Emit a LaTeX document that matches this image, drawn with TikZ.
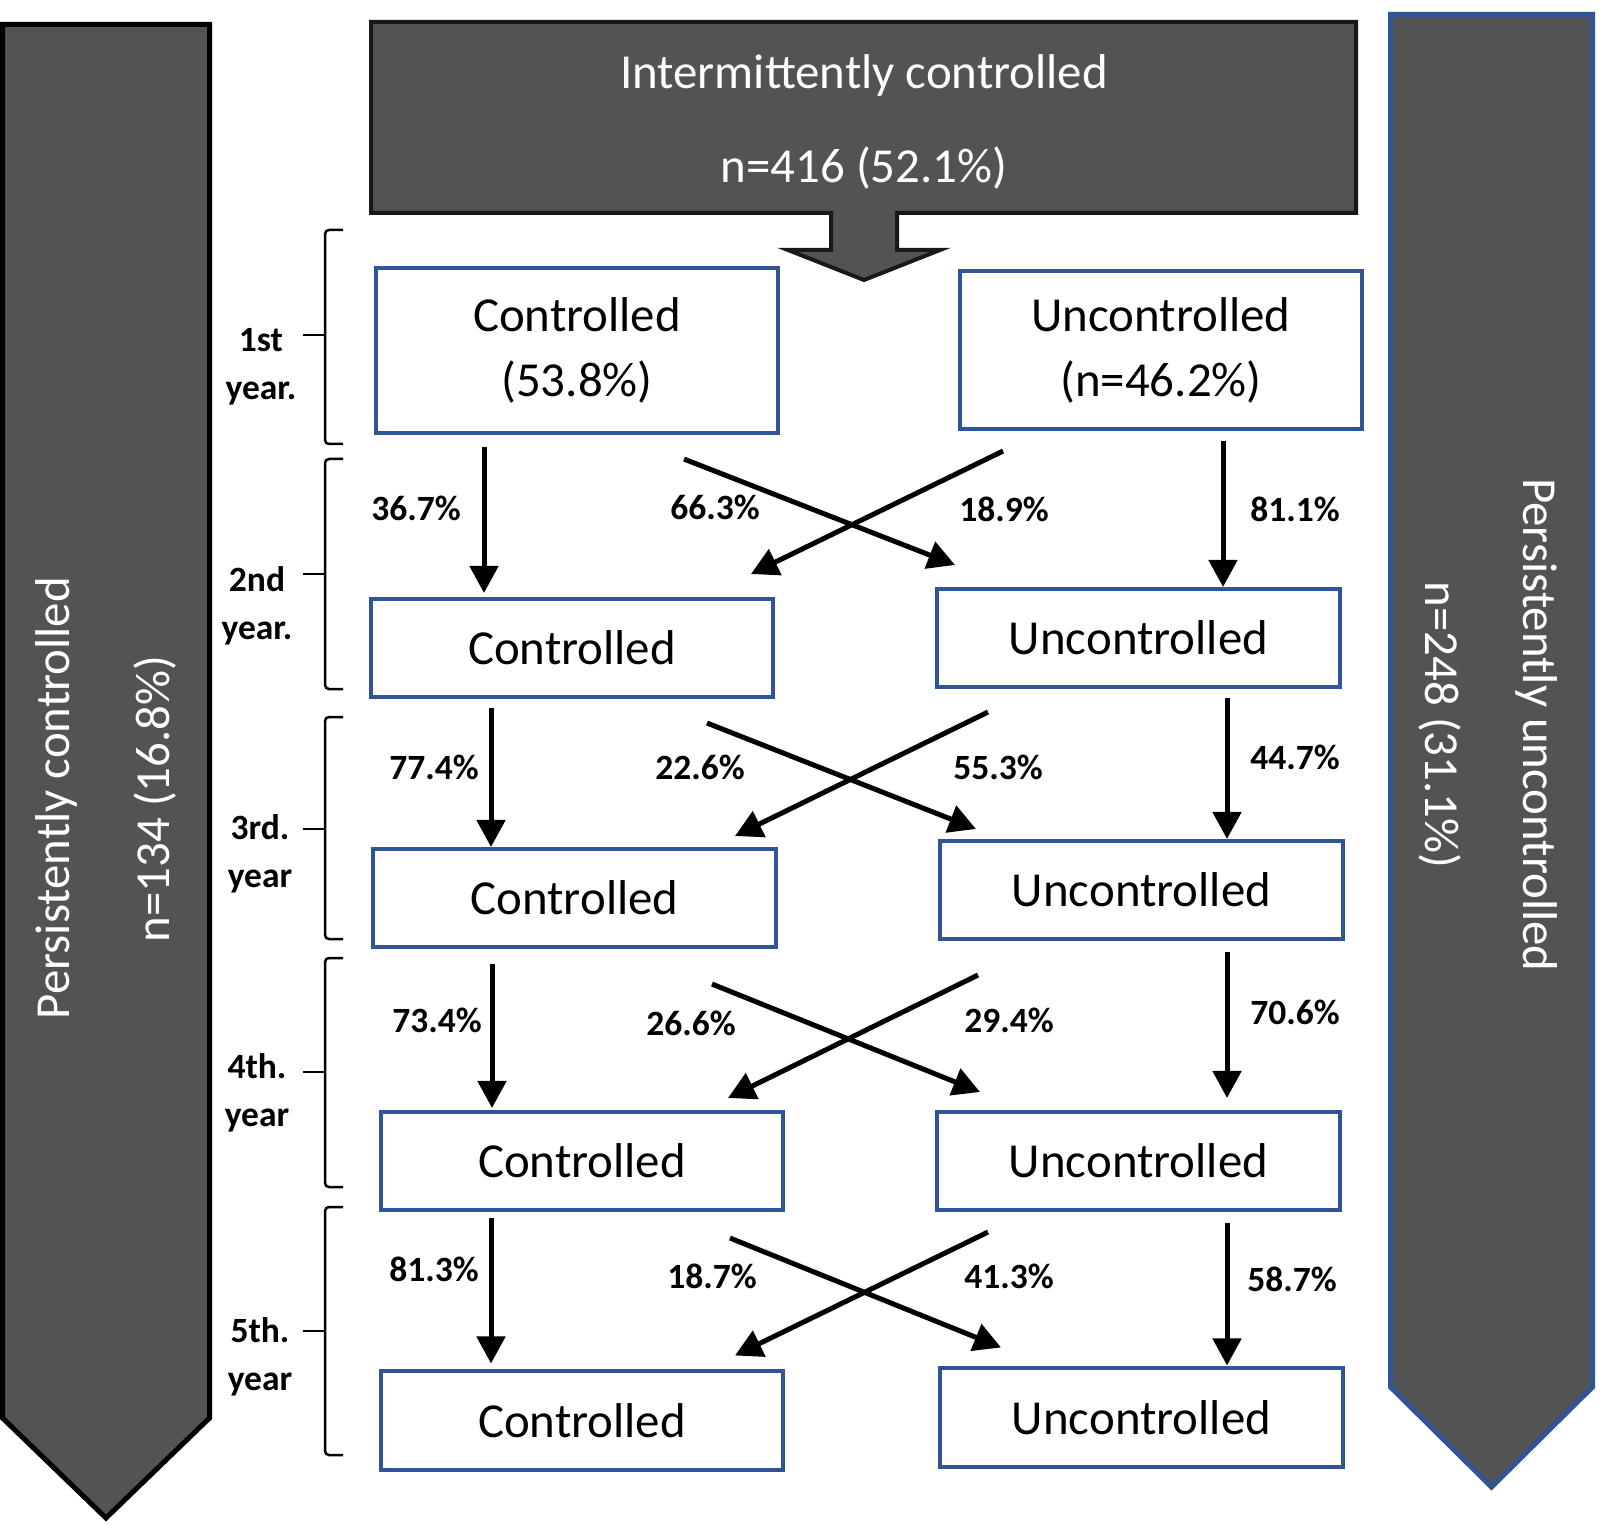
\documentclass[tikz,border=0pt]{standalone}
\usepackage{fontspec}
\setmainfont{Carlito}
\usetikzlibrary{arrows.meta,calc,positioning}
\definecolor{darkfill}{RGB}{83,83,83}
\definecolor{boxblue}{RGB}{47,85,151}

\begin{document}
\begin{tikzpicture}[x=0.01cm,y=-0.01cm]
  \tikzstyle{state}=[rectangle,draw=boxblue,line width=0.04cm,fill=white,minimum width=4.02cm,minimum height=0.98cm,inner sep=0pt,align=center,font=\fontsize{13.9pt}{18.5pt}\selectfont]
  \tikzstyle{pct}=[inner sep=1pt,font=\fontsize{10.1pt}{12pt}\selectfont\bfseries]
  \tikzstyle{year}=[align=center,inner sep=1pt,font=\fontsize{10.1pt}{13.7pt}\selectfont\bfseries]
  \tikzstyle{flow}=[-{Triangle[length=0.27cm,width=0.28cm]},line width=0.05cm]
  \tikzstyle{band}=[fill=darkfill,line width=0.05cm]
  \tikzstyle{bandtext}=[text=white,inner sep=0pt,font=\fontsize{13.9pt}{16pt}\selectfont]
  \tikzstyle{brace}=[line width=0.025cm,rounded corners=0.04cm]

  \useasboundingbox (0,0) rectangle (1601,1525);

  % side bands
  \draw [band,draw=black] (2.5,24.5) -- (209.5,24.5) -- (209.5,1418) -- (106,1518) -- (2.5,1418) -- cycle;
  \draw [band,draw=boxblue] (1390.5,14.5) -- (1592.5,14.5) -- (1592.5,1387) -- (1491.5,1487) -- (1390.5,1387) -- cycle;
  \node [bandtext,rotate=90] (pc) at (56,798) {Persistently controlled};
  \node [bandtext,rotate=90] (pcn) at (155,799) {n=134 (16.8\%)};
  \node [bandtext,rotate=-90] (pu) at (1537,725) {Persistently uncontrolled};
  \node [bandtext,rotate=-90] (pun) at (1440,725) {n=248 (31.1\%)};

  % top box with its arrow
  \draw [band,draw=black!90,line width=0.04cm] (371,22) -- (1356,22) -- (1356,213) -- (897,213) -- (897,250) -- (940,250)
    -- (864,280) -- (788,250) -- (831,250) -- (831,213) -- (371,213) -- cycle;
  \node [bandtext,align=center,font=\fontsize{13.9pt}{26.75pt}\selectfont] (top) at (864,122) {Intermittently controlled\\n=416 (52.1\%)};

  % states
  \node [state,minimum height=1.65cm] (C1) at (577,350.5) {Controlled\\(53.8\%)};
  \node [state,minimum height=1.58cm] (U1) at (1161,350) {Uncontrolled\\(n=46.2\%)};
  \node [state] (C2) at (572,648) {Controlled};
  \node [state] (U2) at (1138.5,638) {Uncontrolled};
  \node [state] (C3) at (574.5,898) {Controlled};
  \node [state] (U3) at (1141.5,890) {Uncontrolled};
  \node [state] (C4) at (582,1161) {Controlled};
  \node [state] (U4) at (1138.5,1161) {Uncontrolled};
  \node [state] (C5) at (582,1420.5) {Controlled};
  \node [state] (U5) at (1141.5,1417.5) {Uncontrolled};

  % transitions
  \draw [flow] ($(C1.south)+(-93,12)$) -- ($(C2.north)+(-88,-4)$);
  \draw [flow] ($(U1.south)+(62,10)$) -- ($(U2.north)+(84.5,0)$);
  \draw [flow] ($(C1.south)+(107,24)$) -- ($(U2.north)+(-183.5,-22)$);
  \draw [flow] ($(U1.south)+(-158,20)$) -- ($(C2.north)+(179,-23)$);

  \draw [flow] ($(C2.south)+(-81,9)$) -- ($(C3.north)+(-83.5,0)$);
  \draw [flow] ($(U2.south)+(88.5,9)$) -- ($(U3.north)+(85.5,0)$);
  \draw [flow] ($(C2.south)+(135,24)$) -- ($(U3.north)+(-165.5,-10)$);
  \draw [flow] ($(U2.south)+(-150.5,23)$) -- ($(C3.north)+(160.5,-11)$);

  \draw [flow] ($(C3.south)+(-82.5,15)$) -- ($(C4.north)+(-90,-2)$);
  \draw [flow] ($(U3.south)+(85.5,11)$) -- ($(U4.north)+(88.5,-12)$);
  \draw [flow] ($(C3.south)+(137.5,35)$) -- ($(U4.north)+(-158.5,-18)$);
  \draw [flow] ($(U3.south)+(-163.5,34)$) -- ($(C4.north)+(146,-12)$);

  \draw [flow] ($(C4.south)+(-91,6)$) -- ($(C5.north)+(-91,-6)$);
  \draw [flow] ($(U4.south)+(88.5,11)$) -- ($(U5.north)+(85.5,-1)$);
  \draw [flow] ($(C4.south)+(148,26)$) -- ($(U5.north)+(-140.5,-19)$);
  \draw [flow] ($(U4.south)+(-150.5,20)$) -- ($(C5.north)+(153,-14)$);

  % percentages
  \node [pct] (p1a) at (416,508) {36.7\%};
  \node [pct] (p1b) at (715,507) {66.3\%};
  \node [pct] (p1c) at (1004,509) {18.9\%};
  \node [pct] (p1d) at (1295,509) {81.1\%};
  \node [pct] (p2a) at (434,767) {77.4\%};
  \node [pct] (p2b) at (700,767) {22.6\%};
  \node [pct] (p2c) at (998,767) {55.3\%};
  \node [pct] (p2d) at (1295,757) {44.7\%};
  \node [pct] (p3a) at (437,1020) {73.4\%};
  \node [pct] (p3b) at (691,1023) {26.6\%};
  \node [pct] (p3c) at (1009,1020) {29.4\%};
  \node [pct] (p3d) at (1295,1012) {70.6\%};
  \node [pct] (p4a) at (434,1269) {81.3\%};
  \node [pct] (p4b) at (712,1276) {18.7\%};
  \node [pct] (p4c) at (1009,1276) {41.3\%};
  \node [pct] (p4d) at (1292,1279) {58.7\%};

  % years
  \draw [brace] (343,230) -- (325,230) -- (325,444) -- (343,444);
  \draw [line width=0.025cm] (303,335) -- (325,335);
  \draw [brace] (343,459) -- (325,459) -- (325,689) -- (343,689);
  \draw [line width=0.025cm] (303,574) -- (325,574);
  \draw [brace] (343,717) -- (325,717) -- (325,939) -- (343,939);
  \draw [line width=0.025cm] (303,829) -- (325,829);
  \draw [brace] (343,958) -- (325,958) -- (325,1187) -- (343,1187);
  \draw [line width=0.025cm] (303,1072) -- (325,1072);
  \draw [brace] (343,1207) -- (325,1207) -- (325,1455) -- (343,1455);
  \draw [line width=0.025cm] (303,1331) -- (325,1331);
  \node [year] (y1) at (261,367) {1st\\year.};
  \node [year] (y2) at (257,606) {2nd\\year.};
  \node [year] (y3) at (260,854) {3rd.\\year};
  \node [year] (y4) at (257,1093) {4th.\\year};
  \node [year] (y5) at (260,1357) {5th.\\year};
\end{tikzpicture}
\end{document}
